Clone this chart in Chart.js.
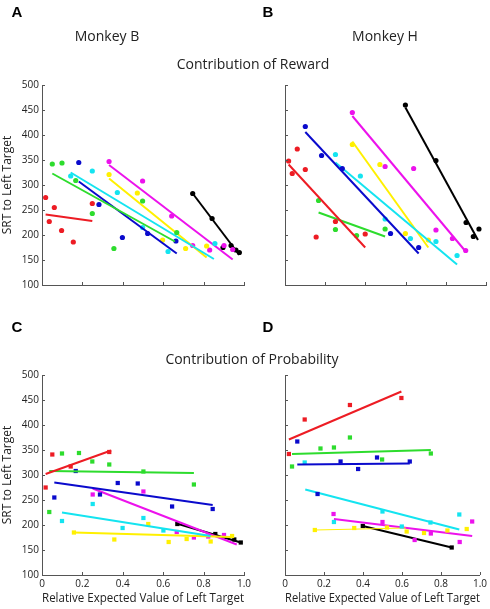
<!DOCTYPE html>
<html>
<head>
<meta charset="utf-8">
<script src="https://cdn.jsdelivr.net/npm/chart.js@4"></script>
<style>
  body { margin: 0; background: #fff; }
  #wrap { position: relative; width: 490px; height: 609px; overflow: hidden; font-family: "Open Sans", sans-serif; color: #222; }
  canvas { position: absolute; left: 0; top: 0; }
  .lbl { position: absolute; white-space: nowrap; transform: translate(-50%, -50%); }
  .letter { font-family: "Liberation Sans", Arial, sans-serif; font-weight: bold; font-size: 15px; color: #000; }
  .head { font-size: 14px; }
</style>
</head>
<body>
<div id="wrap">
  <canvas id="pA" width="490" height="609"></canvas>
  <canvas id="pB" width="490" height="609"></canvas>
  <canvas id="pC" width="490" height="609"></canvas>
  <canvas id="pD" width="490" height="609"></canvas>
  <div class="lbl letter" style="left:17px;top:11px">A</div>
  <div class="lbl letter" style="left:268px;top:11px">B</div>
  <div class="lbl letter" style="left:17px;top:326px">C</div>
  <div class="lbl letter" style="left:268px;top:326px">D</div>
  <div class="lbl head" style="left:107px;top:35px">Monkey B</div>
  <div class="lbl head" style="left:385px;top:35px">Monkey H</div>
  <div class="lbl head" style="left:253px;top:63px">Contribution of Reward</div>
  <div class="lbl head" style="left:252px;top:358px">Contribution of Probability</div>
</div>
<script>
// series order: red, green, blue, cyan, yellow, magenta, black
var seriesNames = ['red', 'green', 'blue', 'cyan', 'yellow', 'magenta', 'black'];
var seriesColors = ['#ed1c24', '#2ddc2d', '#0a0acc', '#14e4f0', '#fff000', '#ec12ec', '#000000'];

var yTicks = [100, 150, 200, 250, 300, 350, 400, 450, 500];
var xTicks = [0, 0.2, 0.4, 0.6, 0.8, 1];

// A: Monkey B, reward
var rewardB_points = [
  [[0.018,275],[0.036,227],[0.061,255],[0.097,209],[0.155,186],[0.249,263]],
  [[0.051,342],[0.099,344],[0.167,309],[0.249,243],[0.356,173],[0.498,268],[0.667,205]],
  [[0.182,345],[0.282,261],[0.398,195],[0.523,203],[0.663,188]],
  [[0.142,318],[0.249,328],[0.373,285],[0.498,215],[0.624,167],[0.856,183]],
  [[0.332,321],[0.472,284],[0.597,190],[0.711,173],[0.815,178]],
  [[0.332,347],[0.498,308],[0.642,238],[0.746,179],[0.830,170],[0.901,179],[0.944,171]],
  [[0.746,283],[0.842,233],[0.896,175],[0.936,179],[0.960,170],[0.977,165]]
];
var rewardB_fits = [
  [[0.018,241],[0.249,228]],
  [[0.051,323],[0.658,187]],
  [[0.182,307],[0.667,163]],
  [[0.142,325],[0.851,152]],
  [[0.332,313],[0.815,155]],
  [[0.332,340],[0.944,151]],
  [[0.746,283],[0.977,160]]
];

// B: Monkey H, reward
var rewardH_points = [
  [[0.018,348],[0.036,323],[0.061,372],[0.101,331],[0.155,196],[0.251,227],[0.399,202]],
  [[0.167,269],[0.251,211],[0.356,199],[0.498,212]],
  [[0.101,417],[0.182,359],[0.285,333],[0.525,203],[0.665,175]],
  [[0.251,361],[0.375,318],[0.498,232],[0.624,193],[0.751,187],[0.856,159]],
  [[0.335,381],[0.472,341],[0.599,203],[0.713,190]],
  [[0.335,445],[0.498,337],[0.640,333],[0.751,210],[0.833,193],[0.899,169]],
  [[0.599,460],[0.751,349],[0.901,225],[0.937,197],[0.965,212]]
];
var rewardH_fits = [
  [[0.018,341],[0.399,175]],
  [[0.167,245],[0.498,197]],
  [[0.101,406],[0.665,163]],
  [[0.251,345],[0.856,141]],
  [[0.335,387],[0.713,175]],
  [[0.335,438],[0.899,167]],
  [[0.599,455],[0.960,190]]
];

// C: Monkey B, probability
var probB_points = [
  [[0.018,275],[0.051,341],[0.142,317],[0.333,346]],
  [[0.036,226],[0.099,343],[0.183,344],[0.249,327],[0.333,321],[0.502,307],[0.752,281]],
  [[0.061,255],[0.167,308],[0.287,261],[0.375,284],[0.474,283],[0.644,237],[0.845,232]],
  [[0.099,208],[0.251,242],[0.399,194],[0.502,214],[0.601,189]],
  [[0.158,185],[0.358,171],[0.526,202],[0.627,166],[0.716,172],[0.835,167],[0.941,178]],
  [[0.251,261],[0.502,267],[0.667,186],[0.752,175],[0.823,177],[0.901,180]],
  [[0.670,202],[0.858,182],[0.952,171],[0.984,165]]
];
var probB_fits = [
  [[0.018,302],[0.342,349]],
  [[0.036,308],[0.752,304]],
  [[0.061,285],[0.845,240]],
  [[0.099,225],[0.835,178]],
  [[0.158,185],[0.939,176]],
  [[0.251,273],[0.964,161]],
  [[0.667,203],[0.984,165]]
];

// D: Monkey H, probability
var probH_points = [
  [[0.020,342],[0.101,411],[0.333,440],[0.597,454]],
  [[0.036,317],[0.182,353],[0.251,355],[0.333,375],[0.498,331],[0.748,343]],
  [[0.063,367],[0.167,262],[0.285,327],[0.375,312],[0.472,335],[0.640,327]],
  [[0.101,325],[0.251,206],[0.500,227],[0.599,197],[0.746,205],[0.894,221]],
  [[0.153,190],[0.355,194],[0.523,195],[0.624,187],[0.713,184],[0.833,189],[0.932,192]],
  [[0.249,222],[0.500,206],[0.665,170],[0.748,183],[0.896,166],[0.960,207]],
  [[0.399,198],[0.855,155]]
];
var probH_fits = [
  [[0.020,371],[0.597,467]],
  [[0.036,342],[0.748,350]],
  [[0.063,321],[0.640,323]],
  [[0.104,271],[0.894,191]],
  [[0.153,190],[0.620,194]],
  [[0.251,212],[0.960,178]],
  [[0.399,198],[0.855,155]]
];

var axisColor = '#555';
var tickFont = { family: 'Open Sans', size: 10 };
var titleFont = { family: 'Open Sans', size: 12 };

// small inward tick marks, matlab style
var inwardTicks = {
  id: 'inwardTicks',
  afterDraw: function(chart) {
    var ctx = chart.ctx, area = chart.chartArea;
    var xs = chart.scales.x, ys = chart.scales.y;
    ctx.save();
    ctx.strokeStyle = axisColor;
    ctx.lineWidth = 1;
    ctx.beginPath();
    xs.ticks.forEach(function(t) {
      var px = Math.round(xs.getPixelForValue(t.value)) + 0.5;
      ctx.moveTo(px, area.bottom);
      ctx.lineTo(px, area.bottom - 3);
    });
    ys.ticks.forEach(function(t) {
      var py = Math.round(ys.getPixelForValue(t.value)) + 0.5;
      ctx.moveTo(area.left, py);
      ctx.lineTo(area.left + 3, py);
    });
    ctx.stroke();
    ctx.restore();
  }
};

function toXY(arr) {
  return arr.map(function(p) { return { x: p[0], y: p[1] }; });
}

function makePanel(id, points, fits, box, showY, showX, pointStyle) {
  var datasets = [];
  for (var i = 0; i < seriesNames.length; i++) {
    datasets.push({
      type: 'line',
      label: seriesNames[i] + ' fit',
      data: toXY(fits[i]),
      borderColor: seriesColors[i],
      borderWidth: (id === 'pD' && i === 4) ? 1 : 2,
      pointRadius: 0,
      fill: false
    });
    datasets.push({
      type: 'scatter',
      label: seriesNames[i],
      data: toXY(points[i]),
      backgroundColor: seriesColors[i],
      borderWidth: 0,
      pointStyle: pointStyle,
      pointRadius: pointStyle === 'rect' ? 3 : 2.6
    });
  }
  var xAxisH = showX ? 609 - box.b : 0;
  return new Chart(document.getElementById(id), {
    data: { datasets: datasets },
    options: {
      responsive: false,
      animation: false,
      events: [],
      layout: { padding: { left: showY ? 0 : box.l, top: box.t, right: 490 - box.r, bottom: showX ? 0 : 609 - box.b } },
      plugins: { legend: { display: false }, tooltip: { enabled: false } },
      scales: {
        x: {
          type: 'linear', min: 0, max: 1,
          afterBuildTicks: function(s) { s.ticks = xTicks.map(function(v) { return { value: v }; }); },
          afterFit: function(s) { s.height = xAxisH; },
          grid: { display: false, drawTicks: false },
          border: { display: true, color: axisColor, width: 1 },
          ticks: { display: showX, padding: 3, color: '#222', font: tickFont, maxRotation: 0 },
          title: { display: showX, text: 'Relative Expected Value of Left Target', color: '#222', font: titleFont, padding: { top: 0, bottom: 3 } }
        },
        y: {
          type: 'linear', min: 100, max: 500,
          afterBuildTicks: function(s) { s.ticks = yTicks.map(function(v) { return { value: v }; }); },
          afterFit: function(s) { s.width = showY ? box.l : 0; },
          grid: { display: false, drawTicks: false },
          border: { display: true, color: axisColor, width: 1 },
          ticks: { display: showY, padding: 3, color: '#222', font: tickFont },
          title: { display: showY, text: 'SRT to Left Target', color: '#222', font: titleFont, padding: 0 }
        }
      }
    },
    plugins: [inwardTicks]
  });
}

window.onload = function() {
  makePanel('pA', rewardB_points, rewardB_fits, { l: 42, t: 85, r: 244, b: 285 }, true, false, 'circle');
  makePanel('pB', rewardH_points, rewardH_fits, { l: 285, t: 85, r: 487, b: 285 }, false, false, 'circle');
  makePanel('pC', probB_points, probB_fits, { l: 42, t: 375, r: 244, b: 575 }, true, true, 'rect');
  makePanel('pD', probH_points, probH_fits, { l: 285, t: 375, r: 487, b: 575 }, false, true, 'rect');
};
</script>
</body>
</html>
